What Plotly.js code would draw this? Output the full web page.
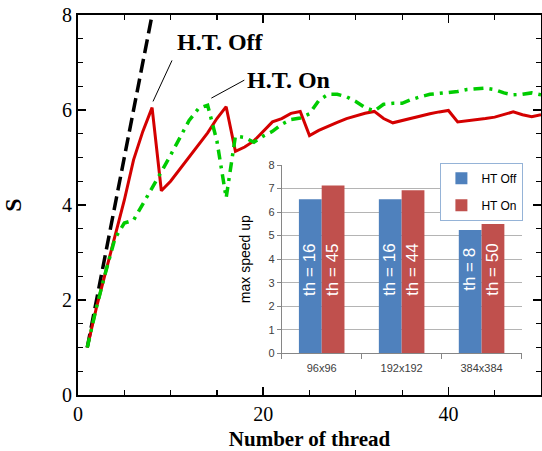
<!DOCTYPE html>
<html><head><meta charset="utf-8">
<script src="https://cdn.plot.ly/plotly-3.0.1.min.js"></script>
<style>html,body{margin:0;padding:0;background:#fff}</style>
</head><body><div id="chart" style="width:542px;height:451px"></div>
<script>
// Main chart: speed-up vs number of threads
const threads = [1,2,3,4,5,6,7,8,9,10,11,12,13,14,15,16,17,18,19,20,21,22,23,24,25,26,27,28,29,30,31,32,33,34,35,36,37,38,39,40,41,42,43,44,45,46,47,48,49,50];
const htOff = [1.0,1.85,2.6,3.35,4.1,4.95,5.55,6.05,4.3,4.5,4.75,5.0,5.25,5.52,5.82,6.07,5.13,5.22,5.35,5.55,5.75,5.82,5.93,5.97,5.46,5.57,5.66,5.74,5.82,5.88,5.93,5.97,5.82,5.73,5.78,5.83,5.88,5.92,5.96,5.99,5.75,5.77,5.79,5.82,5.85,5.9,5.96,5.9,5.86,5.9];
const htOn = [1.0,1.85,2.6,3.3,3.62,3.68,4.02,4.35,4.7,5.05,5.4,5.78,6.03,6.1,5.35,4.15,5.45,5.42,5.32,5.45,5.55,5.7,5.8,5.83,5.92,6.2,6.33,6.33,6.28,6.18,6.05,5.98,6.12,6.14,6.14,6.22,6.28,6.33,6.35,6.37,6.39,6.43,6.45,6.46,6.43,6.36,6.32,6.33,6.36,6.32];
const idealThreads = [1,2,3,4,5,6,7,8,9];
const idealSpeedup = [1,2,3,4,5,6,7,8,9];
const mainLabels = ['H.T. Off','H.T. On'];

// Inset: max speed-up per grid size
const grids = ['96x96','192x192','384x384'];
const maxOff = [6.55,6.55,5.24];
const maxOn = [7.13,6.93,5.49];
const thOff = ['th = 16','th = 16','th = 8'];
const thOn = ['th = 45','th = 44','th = 50'];
const seriesNames = ['HT Off','HT On'];

const serif = 'Liberation Serif, Times New Roman, serif';
const sans = 'Liberation Sans, Arial, sans-serif';

const traces = [
  {x: idealThreads, y: idealSpeedup, type:'scatter', mode:'lines', showlegend:false,
   line:{color:'#000', width:3.5, dash:'14px,6px'}, hoverinfo:'skip'},
  {x: threads, y: htOff, type:'scatter', mode:'lines', showlegend:false,
   line:{color:'#d40000', width:3}},
  {x: threads, y: htOn, type:'scatter', mode:'lines', showlegend:false,
   line:{color:'#00cc00', width:3.5, dash:'10px,6px,3px,6px'}},
  {x: grids, y: maxOff, type:'bar', name: seriesNames[0], xaxis:'x2', yaxis:'y2',
   marker:{color:'#4f81bd'}, legendgroup:'a'},
  {x: grids, y: maxOn, type:'bar', name: seriesNames[1], xaxis:'x2', yaxis:'y2',
   marker:{color:'#c0504d'}, legendgroup:'b'}
];

const annotations = [
  {x: 8.1, y: 6.18, xref:'x', yref:'y', text:'<b>'+mainLabels[0]+'</b>', showarrow:true,
   arrowhead:0, arrowwidth:1, arrowcolor:'#000', ax:19, ay:-41, xanchor:'left', yanchor:'bottom', borderpad:4,
   font:{family:serif, size:24, color:'#000'}},
  {x: 14.4, y: 6.25, xref:'x', yref:'y', text:'<b>'+mainLabels[1]+'</b>', showarrow:true,
   arrowhead:0, arrowwidth:1, arrowcolor:'#000', ax:33, ay:-18, xanchor:'left', yanchor:'middle', borderpad:2,
   font:{family:serif, size:24, color:'#000'}}
];
grids.forEach((g,i)=>{
  annotations.push({x:g, y:3.55, xref:'x2', yref:'y2', xshift:-11.5, text:thOff[i], textangle:-90,
    showarrow:false, font:{family:sans, size:17, color:'#fff'}});
  annotations.push({x:g, y:3.55, xref:'x2', yref:'y2', xshift:11.5, text:thOn[i], textangle:-90,
    showarrow:false, font:{family:sans, size:17, color:'#fff'}});
});

const layout = {
  width:542, height:451,
  margin:{l:78, r:1, t:15, b:56},
  paper_bgcolor:'#fff', plot_bgcolor:'#fff',
  showlegend:true,
  xaxis:{range:[0,50], dtick:20, tick0:0, ticks:'inside', ticklen:8, tickwidth:1.5, tickcolor:'#000',
    showline:true, linecolor:'#000', linewidth:2, mirror:'ticks', showgrid:false, zeroline:false, automargin:false,
    minor:{dtick:5, ticks:'inside', ticklen:5, tickwidth:1.2, tickcolor:'#000', showgrid:false},
    tickfont:{family:serif, size:20, color:'#000'},
    title:{text:'<b>Number of thread</b>', font:{family:serif, size:21, color:'#000'}, standoff:8}},
  yaxis:{range:[0,8], dtick:2, tick0:0, ticks:'inside', ticklen:8, tickwidth:1.5, tickcolor:'#000',
    showline:true, linecolor:'#000', linewidth:2, mirror:'ticks', showgrid:false, zeroline:false, automargin:false,
    minor:{dtick:0.5, ticks:'inside', ticklen:5, tickwidth:1.2, tickcolor:'#000', showgrid:false},
    tickfont:{family:serif, size:20, color:'#000'},
    title:{text:'<b>S</b>', font:{family:serif, size:24, color:'#000'}, standoff:38}},
  xaxis2:{domain:[0.44,0.958], anchor:'y2', type:'category', showline:true, linecolor:'#868686', linewidth:1,
    ticks:'outside', ticklen:5, tickcolor:'#868686', tickson:'boundaries', showgrid:false, zeroline:false, automargin:false,
    ticklabelstandoff:5, tickfont:{family:sans, size:11, color:'#404040'}},
  yaxis2:{domain:[0.11,0.605], anchor:'x2', range:[0,8], dtick:1, showline:true, linecolor:'#868686', linewidth:1,
    ticks:'outside', ticklen:4, tickcolor:'#868686', showgrid:true, gridcolor:'#b4b4b4', gridwidth:1, zeroline:false, automargin:false,
    tickfont:{family:sans, size:11, color:'#404040'},
    title:{text:'max speed up', font:{family:sans, size:14, color:'#000'}, standoff:14}},
  barmode:'group', bargap:0.43, bargroupgap:0,
  legend:{x:0.962, y:0.611, xanchor:'right', yanchor:'top', bgcolor:'#fff', bordercolor:'#95b3d7', borderwidth:1,
    font:{family:sans, size:12, color:'#000'}, traceorder:'grouped', tracegroupgap:8, itemwidth:30},
  annotations: annotations
};

Plotly.newPlot('chart', traces, layout, {displayModeBar:false, staticPlot:true});
</script></body></html>
